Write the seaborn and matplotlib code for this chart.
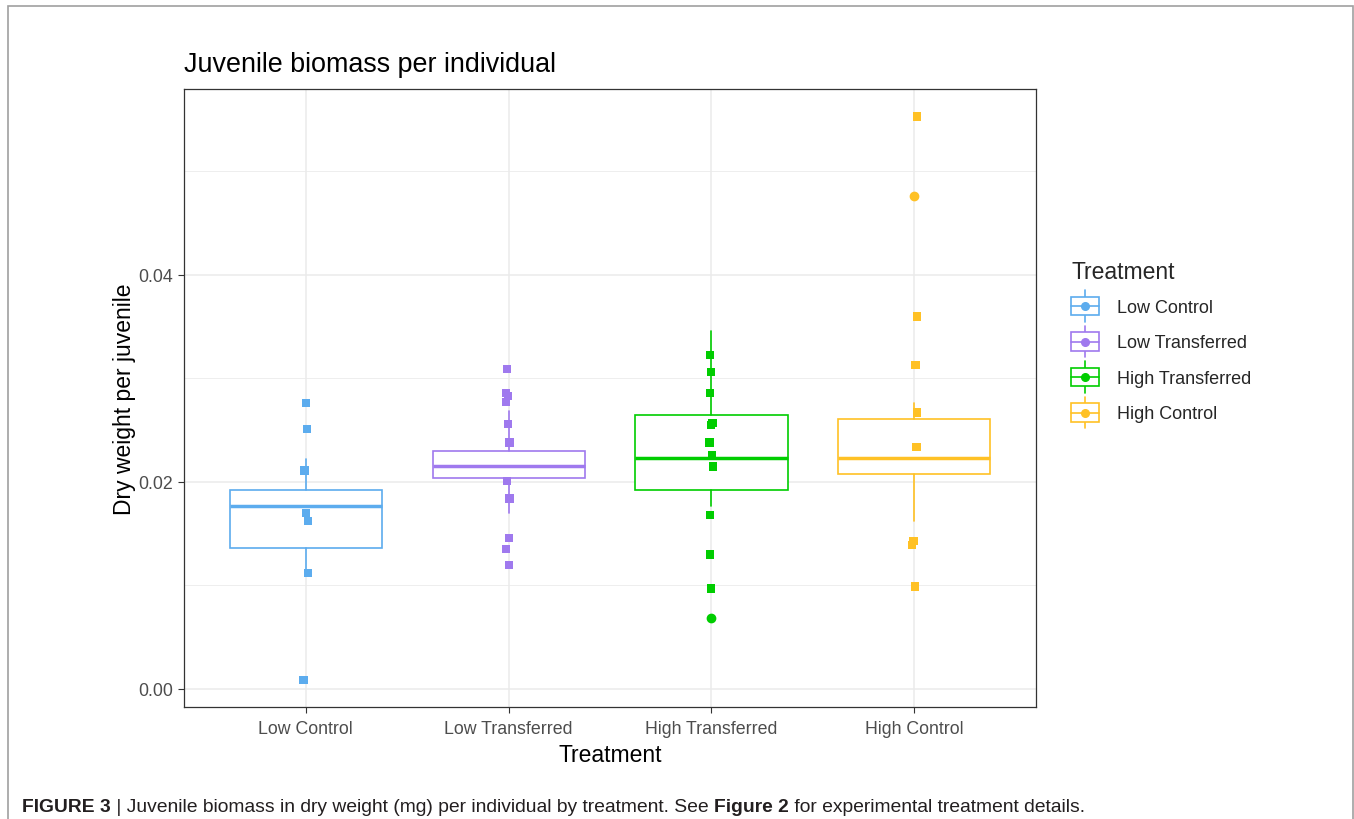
import numpy as np
import pandas as pd
import matplotlib
matplotlib.use("Agg")
import matplotlib.pyplot as plt
from matplotlib.lines import Line2D
from matplotlib.patches import Rectangle
from matplotlib.legend_handler import HandlerBase
from matplotlib.ticker import MultipleLocator
import seaborn as sns

# ---- data -------------------------------------------------------------
treatments = ["Low Control", "Low Transferred", "High Transferred", "High Control"]
colors = ["#5CACEE", "#9F79EE", "#00CD00", "#FFC125"]

low_control = [0.0276, 0.0251, 0.0211, 0.0170, 0.0162, 0.0112, 0.0009]
low_transferred = [0.0309, 0.0286, 0.0283, 0.0277, 0.0256, 0.0238, 0.0201,
                   0.0184, 0.0146, 0.0135, 0.0120]
high_transferred = [0.0323, 0.0306, 0.0286, 0.0257, 0.0255, 0.0238, 0.0226,
                    0.0215, 0.0168, 0.0130, 0.0097]
high_control = [0.0553, 0.0360, 0.0313, 0.0267, 0.0234, 0.0143, 0.0139, 0.0099]

# box summaries: lower whisker, Q1, median, Q3, upper whisker
whisker_low = [0.0112, 0.0170, 0.0177, 0.0162]
q1 = [0.01365, 0.0204, 0.01926, 0.02077]
median = [0.01768, 0.02158, 0.02229, 0.02229]
q3 = [0.01926, 0.02303, 0.0265, 0.02609]
whisker_high = [0.0222, 0.0269, 0.03456, 0.02761]
outliers = [[], [], [0.0069], [0.0476]]

y_ticks = [0.00, 0.02, 0.04]
y_tick_labels = ["0.00", "0.02", "0.04"]

groups = [low_control, low_transferred, high_transferred, high_control]
df = pd.DataFrame({
    "Treatment": np.repeat(treatments, [len(g) for g in groups]),
    "weight": np.concatenate(groups),
})

# ---- figure -----------------------------------------------------------
sns.set_theme(style="white")
plt.rcParams["font.family"] = ["Liberation Sans", "DejaVu Sans"]

W, H = 1354, 820
fig = plt.figure(figsize=(W / 100, H / 100), dpi=100)
ax = fig.add_axes([184 / W, 1 - 708 / H, (1036 - 184) / W, (708 - 90) / H])

# boxes (ggplot-like: white fill, no caps, fat median)
for i, c in enumerate(colors):
    stats = [dict(whislo=whisker_low[i], q1=q1[i], med=median[i], q3=q3[i],
                  whishi=whisker_high[i], fliers=outliers[i])]
    ax.bxp(stats, positions=[i], widths=0.75, patch_artist=True,
           showcaps=False, manage_ticks=False,
           boxprops=dict(facecolor="white", edgecolor=c, linewidth=1.2),
           whiskerprops=dict(color=c, linewidth=1.2),
           medianprops=dict(color=c, linewidth=2.5),
           flierprops=dict(marker="o", markerfacecolor=c, markeredgecolor=c,
                           markersize=6),
           zorder=2)

# jittered observations
np.random.seed(3)
sns.stripplot(data=df, x="Treatment", y="weight", hue="Treatment",
              order=treatments, hue_order=treatments, palette=colors,
              marker="s", size=6, linewidth=0, jitter=0.015,
              legend=False, ax=ax, zorder=3)

ax.set_xlim(-0.6, 3.6)
ax.set_ylim(-0.00174, 0.05797)
ax.set_xticks(range(len(treatments)))
ax.set_xticklabels(treatments)
ax.set_yticks(y_ticks)
ax.set_yticklabels(y_tick_labels)
ax.yaxis.set_minor_locator(MultipleLocator(0.01))

ax.set_axisbelow(True)
ax.grid(which="major", axis="both", color="#EBEBEB", linewidth=1.1)
ax.grid(which="minor", axis="y", color="#EBEBEB", linewidth=0.6)
ax.tick_params(axis="both", which="major", direction="out", length=4,
               width=0.8, color="#333333", labelsize=12.8,
               labelcolor="#4D4D4D", pad=4, bottom=True, left=True)
ax.tick_params(axis="x", which="major", pad=5.5)
ax.tick_params(axis="y", which="minor", length=0)
for s in ax.spines.values():
    s.set_color("#333333")
    s.set_linewidth(0.9)

ax.set_xlabel("Treatment", fontsize=16.5, color="black", labelpad=4)
ax.set_ylabel("Dry weight per juvenile", fontsize=16.5, color="black", labelpad=1.5)

fig.text(184 / W, 1 - 65 / H, "Juvenile biomass per individual",
         fontsize=19.4, ha="left", va="center", color="black")


# legend keys: small box with whisker stub and a dot
class BoxKey(HandlerBase):
    def create_artists(self, legend, orig_handle, xdescent, ydescent,
                       width, height, fontsize, trans):
        c = orig_handle.get_color()
        x0, y0 = -xdescent, -ydescent
        bh = height * 0.72
        by = y0 + (height - bh) / 2
        whisk = Line2D([x0 + width / 2] * 2, [y0 - 0.12 * height, y0 + 1.12 * height],
                       color=c, lw=1.2, transform=trans)
        box = Rectangle((x0, by), width, bh, facecolor="white", edgecolor=c,
                        lw=1.2, transform=trans)
        med = Line2D([x0, x0 + width], [y0 + height / 2] * 2, color=c, lw=1.2,
                     transform=trans)
        dot = Line2D([x0 + width / 2], [y0 + height / 2], marker="o",
                     markersize=5.5, color=c, lw=0, transform=trans)
        return [whisk, box, med, dot]


handles = [Line2D([], [], color=c) for c in colors]
leg = fig.legend(handles, treatments, handler_map={Line2D: BoxKey()},
                 loc="upper left", bbox_to_anchor=(1066 / W, 1 - 256 / H),
                 frameon=False, fontsize=13, title="Treatment",
                 title_fontsize=16.5, handlelength=1.5, handleheight=1.8,
                 labelspacing=0.55, handletextpad=1.0, borderaxespad=0,
                 borderpad=0.3, alignment="left")

# outer frame
fig.patches.append(Rectangle((8 / W, -0.05), (1353 - 8) / W, 1.05 - 7 / H,
                             transform=fig.transFigure, fill=False,
                             edgecolor="#A0A0A0", linewidth=1.2))

# caption with bold runs
cap_y = 1 - 808 / H
pieces = [("FIGURE 3", "bold"), (" | Juvenile biomass in dry weight (mg) per individual by treatment. See ", "normal"),
          ("Figure 2", "bold"), (" for experimental treatment details.", "normal")]
fig.canvas.draw()
renderer = fig.canvas.get_renderer()
x = 22 / W
for txt, wt in pieces:
    t = fig.text(x, cap_y, txt, fontsize=13.85, fontweight=wt, color="#231F20",
                 ha="left", va="center")
    bb = t.get_window_extent(renderer=renderer)
    x = bb.x1 / W

fig.savefig("out.png", dpi=100)
